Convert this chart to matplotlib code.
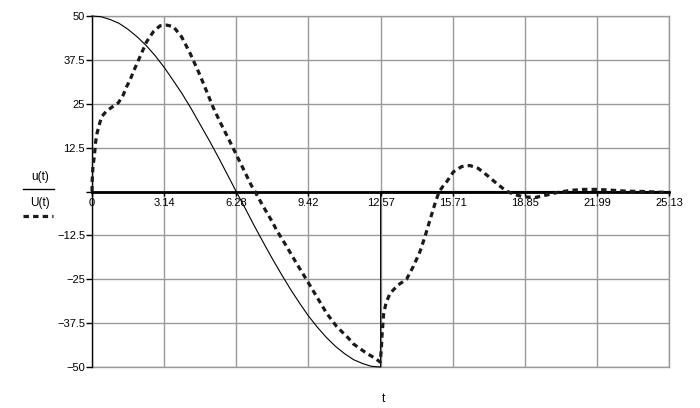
import matplotlib
matplotlib.use("Agg")
import matplotlib.pyplot as plt
from matplotlib.lines import Line2D

plt.rcParams["font.family"] = ["Liberation Sans", "DejaVu Sans"]
plt.rcParams["font.size"] = 8

# ---- data ----
t_u = [0, 0.39, 0.79, 1.18, 1.57, 1.96, 2.36, 2.75, 3.14, 3.53, 3.93, 4.32, 4.71,
       5.11, 5.50, 5.89, 6.28, 6.68, 7.07, 7.46, 7.85, 8.25, 8.64, 9.03, 9.42,
       9.82, 10.21, 10.60, 11.00, 11.39, 11.78, 12.17, 12.57, 12.57, 25.13]
u_vals = [50, 49.8, 49.0, 47.9, 46.2, 44.1, 41.6, 38.7, 35.4, 31.7, 27.8, 23.6, 19.1,
          14.5, 9.8, 4.9, 0, -4.9, -9.8, -14.5, -19.1, -23.6, -27.8, -31.7, -35.4,
          -38.7, -41.6, -44.1, -46.2, -47.9, -49.0, -49.8, -50, 0, 0]

t_U = [0, 0.01, 0.04, 0.1, 0.16, 0.22, 0.31, 0.42, 0.6, 0.86, 1.15, 1.36, 1.51,
       1.66, 1.8, 2.09, 2.38, 2.67, 2.96, 3.25, 3.54, 3.9, 4.27, 4.7, 5.0, 5.28,
       5.6, 6.0, 6.3, 6.6, 6.95, 7.1, 7.4, 7.83, 8.04, 8.48, 8.91, 9.35, 9.79,
       10.22, 10.66, 11.17, 11.38, 11.96, 12.33, 12.55, 12.6, 12.63, 12.66, 12.7,
       12.8, 12.98, 13.34, 13.7, 13.99, 14.28, 14.5, 14.72, 14.94, 15.12, 15.3,
       15.45, 15.74, 16.1, 16.46, 16.82, 17.19, 17.62, 17.99, 18.35, 18.79, 19.3,
       19.81, 20.25, 20.81, 21.4, 21.97, 22.55, 23.28, 24.0, 25.13]
U_vals = [0, 3.3, 7.1, 9.9, 14.2, 16.6, 18.9, 21.3, 22.7, 24.0, 25.3, 27.5, 29.9,
          31.8, 34.1, 38.4, 42.7, 45.5, 47.2, 47.4, 47.0, 44.1, 39.4, 33.2, 28.4, 23.9,
          19.5, 14.3, 10.3, 6.3, 1.6, 0, -3.6, -8.4, -11.0, -15.7, -20.5, -25.2, -30.0,
          -34.7, -38.5, -41.8, -43.4, -46.1, -47.5, -48.6, -45.0, -41.0, -38.5, -35.0,
          -31.9, -29.0, -26.6, -25.0, -21.4, -17.2, -12.9, -8.1, -3.4, 0, 1.6,
          2.8, 5.6, 7.1, 7.4, 6.6, 4.7, 2.3, 0.4, -0.8, -1.5, -1.7,
          -1.0, -0.3, 0.3, 0.6, 0.6, 0.4, 0.1, 0, -0.3]

x_ticks = [0, 3.14, 6.28, 9.42, 12.57, 15.71, 18.85, 21.99, 25.13]
x_labels = ["0", "3.14", "6.28", "9.42", "12.57", "15.71", "18.85", "21.99", "25.13"]
y_ticks = [-50, -37.5, -25, -12.5, 0, 12.5, 25, 37.5, 50]
y_labels = ["\u221250", "\u221237.5", "\u221225", "\u221212.5", "", "12.5", "25", "37.5", "50"]

GRID = "#999999"
DASH = (0, (1.7, 1.3))

fig = plt.figure(figsize=(7.0, 4.08), dpi=100)
ax = fig.add_axes([92 / 700, 41 / 408, 577 / 700, 351 / 408])

ax.set_xlim(0, 25.13)
ax.set_ylim(-50, 50)

ax.set_xticks(x_ticks)
ax.set_xticklabels(x_labels)
ax.set_yticks(y_ticks)
ax.set_yticklabels(y_labels)

ax.grid(True, color=GRID, linewidth=1.0, zorder=0)
ax.set_axisbelow(True)

for s in ["top", "right"]:
    ax.spines[s].set_visible(False)
ax.spines["left"].set_color("black")
ax.spines["left"].set_linewidth(1.0)
ax.spines["bottom"].set_position(("data", 0))
ax.spines["bottom"].set_color("black")
ax.spines["bottom"].set_linewidth(2.0)
ax.spines["bottom"].set_zorder(1)

ax.tick_params(axis="y", direction="out", length=4, width=1, pad=1,
               colors="black", labelsize=8)
ax.tick_params(axis="x", direction="out", length=3, width=1, pad=2,
               colors="black", labelsize=8)

# frame lines (gray) on top, right, bottom
ax.axhline(50, color=GRID, lw=1.0, clip_on=False, zorder=0.5)
ax.axhline(-50, color=GRID, lw=1.0, clip_on=False, zorder=0.5)
ax.axvline(25.13, color=GRID, lw=1.0, clip_on=False, zorder=0.5)

ax.plot(t_u, u_vals, color="black", lw=0.8, zorder=3, clip_on=False)
ax.plot(t_U, U_vals, color="#1a1a1a", lw=2.3, linestyle=DASH,
        zorder=4, clip_on=False)

# legend (Mathcad-style, left of axis)
fig.text(40 / 700, 1 - 177 / 408, "u(t)", ha="center", va="center", fontsize=8.5)
fig.add_artist(Line2D([23 / 700, 54 / 700], [1 - 189 / 408, 1 - 189 / 408],
                      color="black", lw=1.0, transform=fig.transFigure))
fig.text(40 / 700, 1 - 203 / 408, "U(t)", ha="center", va="center", fontsize=8.5)
fig.add_artist(Line2D([23 / 700, 53 / 700], [1 - 216 / 408, 1 - 216 / 408],
                      color="#1a1a1a", lw=2.3, linestyle=DASH,
                      transform=fig.transFigure))

fig.text(383 / 700, 1 - 399 / 408, "t", ha="center", va="center", fontsize=8.5)

fig.savefig("out.png", dpi=100)
